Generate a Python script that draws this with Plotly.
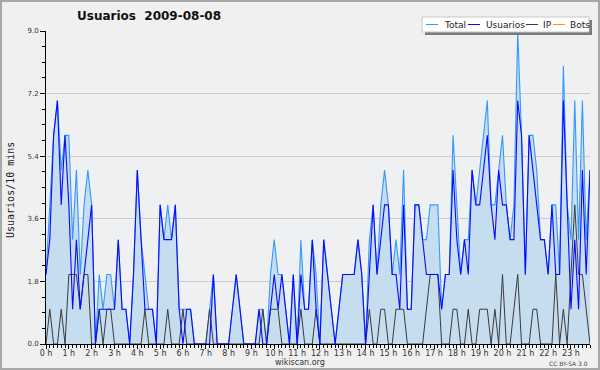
import plotly.graph_objects as go

# 10-minute slots over the day (144 slots)
slots = list(range(144))
hours = [s / 6 for s in slots]

hour_ticks = list(range(24))
hour_labels = [f"{h} h" for h in hour_ticks]
y_ticks = [0, 1.8, 3.6, 5.4, 7.2, 9.0]
y_labels = ["0.0", "1.8", "3.6", "5.4", "7.2", "9.0"]

total = [2, 4, 6, 7, 5, 6, 6, 3, 5, 2, 4, 5, 4, 0, 2, 1, 2, 2, 1, 3,
         1, 1, 0, 2, 5, 3, 2, 1, 1, 0, 4, 3, 4, 3, 4, 1, 1, 1, 1, 0,
         0, 0, 0, 1, 2, 0, 0, 0, 0, 1, 2, 1, 0, 0, 0, 0, 1, 1, 0, 2,
         3, 2, 2, 1, 0, 2, 0, 3, 1, 1, 3, 2, 0, 3, 2, 1, 0, 1, 2, 2,
         2, 2, 3, 2, 0, 3, 4, 2, 4, 5, 4, 2, 3, 2, 5, 1, 1, 4, 4, 3,
         3, 4, 4, 4, 1, 2, 2, 6, 4, 2, 3, 3, 5, 4, 5, 6, 7, 4, 4, 5,
         6, 4, 3, 4, 9, 6, 2, 6, 6, 5, 3, 3, 2, 4, 4, 2, 8, 4, 3, 7,
         3, 7, 3, 5]

usuarios = [2, 3, 6, 7, 4, 6, 4, 1, 3, 1, 2, 3, 4, 0, 1, 1, 1, 1, 1, 3,
            1, 1, 0, 2, 5, 3, 1, 1, 1, 0, 4, 3, 3, 3, 4, 1, 0, 1, 1, 0,
            0, 0, 0, 0, 2, 0, 0, 0, 0, 1, 2, 1, 0, 0, 0, 0, 1, 0, 0, 1,
            2, 1, 2, 1, 0, 2, 0, 2, 1, 1, 3, 1, 0, 3, 2, 1, 0, 1, 2, 2,
            2, 2, 3, 2, 0, 2, 4, 2, 3, 4, 4, 2, 2, 1, 4, 1, 1, 4, 4, 3,
            2, 2, 2, 2, 1, 2, 2, 5, 3, 2, 3, 2, 5, 4, 4, 5, 6, 4, 3, 5,
            4, 4, 3, 3, 7, 6, 2, 6, 5, 4, 3, 3, 2, 4, 2, 2, 7, 4, 1, 3,
            1, 5, 2, 5]

ip = [0, 1, 0, 0, 1, 0, 2, 2, 2, 1, 2, 2, 0, 0, 1, 0, 1, 1, 0, 0,
      0, 0, 0, 0, 0, 0, 1, 0, 0, 0, 0, 0, 1, 0, 0, 0, 1, 0, 0, 0,
      0, 0, 0, 1, 0, 0, 0, 0, 0, 0, 0, 0, 0, 0, 0, 0, 0, 1, 0, 1,
      1, 1, 0, 0, 0, 0, 0, 1, 0, 0, 0, 1, 0, 0, 0, 0, 0, 0, 0, 0,
      0, 0, 0, 0, 0, 1, 0, 0, 1, 1, 0, 0, 1, 1, 1, 0, 0, 0, 0, 0,
      1, 2, 2, 2, 0, 0, 0, 1, 1, 0, 0, 1, 0, 0, 1, 1, 1, 0, 1, 0,
      2, 0, 0, 1, 2, 0, 0, 0, 1, 1, 0, 0, 0, 0, 2, 0, 1, 0, 2, 4,
      2, 2, 1, 0]

bots = [0, 0, 0, 0, 0, 0, 0, 0, 0, 0, 0, 0, 0, 0, 0, 0, 0, 0, 0, 0,
        0, 0, 0, 0, 0, 0, 0, 0, 0, 0, 0, 0, 0, 0, 0, 0, 0, 0, 0, 0,
        0, 0, 0, 0, 0, 0, 0, 0, 0, 0, 0, 0, 0, 0, 0, 0, 0, 0, 0, 0,
        0, 0, 0, 0, 0, 0, 0, 0, 0, 0, 0, 0, 0, 0, 0, 0, 0, 0, 0, 0,
        0, 0, 0, 0, 0, 0, 0, 0, 0, 0, 0, 0, 0, 0, 0, 0, 0, 0, 0, 0,
        0, 0, 0, 0, 0, 0, 0, 0, 0, 0, 0, 0, 0, 0, 0, 0, 0, 0, 0, 0,
        0, 0, 0, 0, 0, 0, 0, 0, 0, 0, 0, 0, 0, 0, 0, 0, 0, 0, 0, 0,
        0, 0, 0, 0]

C_TOTAL = "#3399FF"
C_USR = "#0A0AFF"
C_IP = "#3A3A3A"
C_BOTS = "#FF9900"
C_FILL = "#C6DDF0"

# plot area in pixels
L, R, T, B = 46, 590, 31, 344
W, H = 600, 370


def px(x):
    return (x - L) / (R - L)


def py(y):
    return (B - y) / (B - T)


fig = go.Figure()
fig.add_trace(go.Scatter(x=hours, y=bots, mode="lines", name="Bots",
                         line=dict(color=C_BOTS, width=1), showlegend=False))
fig.add_trace(go.Scatter(x=hours, y=total, mode="lines", name="Total",
                         line=dict(color=C_TOTAL, width=1.1), fill="tozeroy",
                         fillcolor=C_FILL, showlegend=False))
fig.add_trace(go.Scatter(x=hours, y=ip, mode="lines", name="IP",
                         line=dict(color=C_IP, width=1), showlegend=False))
fig.add_trace(go.Scatter(x=hours, y=usuarios, mode="lines", name="Usuarios",
                         line=dict(color=C_USR, width=1.1), showlegend=False))

font = "DejaVu Sans"

shapes = []
annotations = []

# outer border
shapes.append(dict(type="rect", xref="paper", yref="paper",
                   x0=px(1), x1=px(599), y0=py(1), y1=py(369),
                   line=dict(color="#A8A8A8", width=2), fillcolor="rgba(0,0,0,0)"))

# legend box with shadow
shapes.append(dict(type="rect", xref="paper", yref="paper",
                   x0=px(425), x1=px(592), y0=py(20), y1=py(35),
                   line=dict(width=0), fillcolor="#7A7A7A"))
shapes.append(dict(type="rect", xref="paper", yref="paper",
                   x0=px(422), x1=px(589), y0=py(17), y1=py(32),
                   line=dict(color="#C8C8C8", width=1), fillcolor="white"))

legend_items = [
    ("Total", C_TOTAL, 426, 442),
    ("Usuarios", C_USR, 468, 484),
    ("IP", C_IP, 526, 541),
    ("Bots", C_BOTS, 553, 568),
]
for name, col, lx, tx in legend_items:
    shapes.append(dict(type="line", xref="paper", yref="paper",
                       x0=px(lx), x1=px(lx + 12), y0=py(24.5), y1=py(24.5),
                       line=dict(color=col, width=1)))
    annotations.append(dict(text=name, xref="paper", yref="paper",
                            x=px(tx), y=py(24.5), xanchor="left", yanchor="middle",
                            showarrow=False, font=dict(family=font, size=9, color="#222")))

# title
annotations.append(dict(text="<b>Usuarios\u00a0 2009-08-08</b>", xref="paper", yref="paper",
                        x=px(75), y=py(16), xanchor="left", yanchor="middle",
                        showarrow=False, font=dict(family=font, size=12, color="#111")))
# y axis title
annotations.append(dict(text="Usuarios/10 mins", xref="paper", yref="paper",
                        x=px(10), y=py(190), xanchor="center", yanchor="middle",
                        textangle=-90, showarrow=False,
                        font=dict(family="DejaVu Sans Mono", size=10, color="#222")))
# x axis footer
annotations.append(dict(text="wikiscan.org", xref="paper", yref="paper",
                        x=px(300), y=py(362), xanchor="center", yanchor="middle",
                        showarrow=False, font=dict(family=font, size=8, color="#333")))
annotations.append(dict(text="CC BY-SA 3.0", xref="paper", yref="paper",
                        x=px(590), y=py(363), xanchor="right", yanchor="middle",
                        showarrow=False, font=dict(family=font, size=6, color="#444")))

fig.update_layout(
    width=W, height=H, autosize=False,
    margin=dict(l=L, r=W - R, t=T, b=H - B, pad=0),
    paper_bgcolor="#F0F0F0", plot_bgcolor="#EEF0F2",
    showlegend=False,
    shapes=shapes, annotations=annotations,
    xaxis=dict(range=[0, hours[-1]], tickmode="array", tickvals=hour_ticks,
               ticktext=hour_labels, ticks="outside", ticklen=4, tickcolor="black",
               tickwidth=1, showline=True, linecolor="black", linewidth=1,
               showgrid=False, zeroline=False, ticklabelstandoff=-3,
               tickfont=dict(family=font, size=8, color="#333"),
               minor=dict(dtick=1 / 6, tick0=0, ticks="outside", ticklen=3,
                          tickcolor="black", showgrid=False)),
    yaxis=dict(range=[0, 9], tickmode="array", tickvals=y_ticks, ticktext=y_labels,
               ticks="outside", ticklen=5, tickcolor="black", tickwidth=1,
               showline=True, linecolor="black", linewidth=1,
               showgrid=True, gridcolor="#CCCCCC", gridwidth=1, zeroline=False,
               tickfont=dict(family=font, size=7, color="#333"),
               minor=dict(dtick=0.45, tick0=0, ticks="outside", ticklen=3,
                          tickcolor="black", showgrid=False)),
)

fig.write_html("out.html", config={"displayModeBar": False},
               post_script="document.body.style.margin='0';"
                           "document.body.style.overflow='hidden';")
